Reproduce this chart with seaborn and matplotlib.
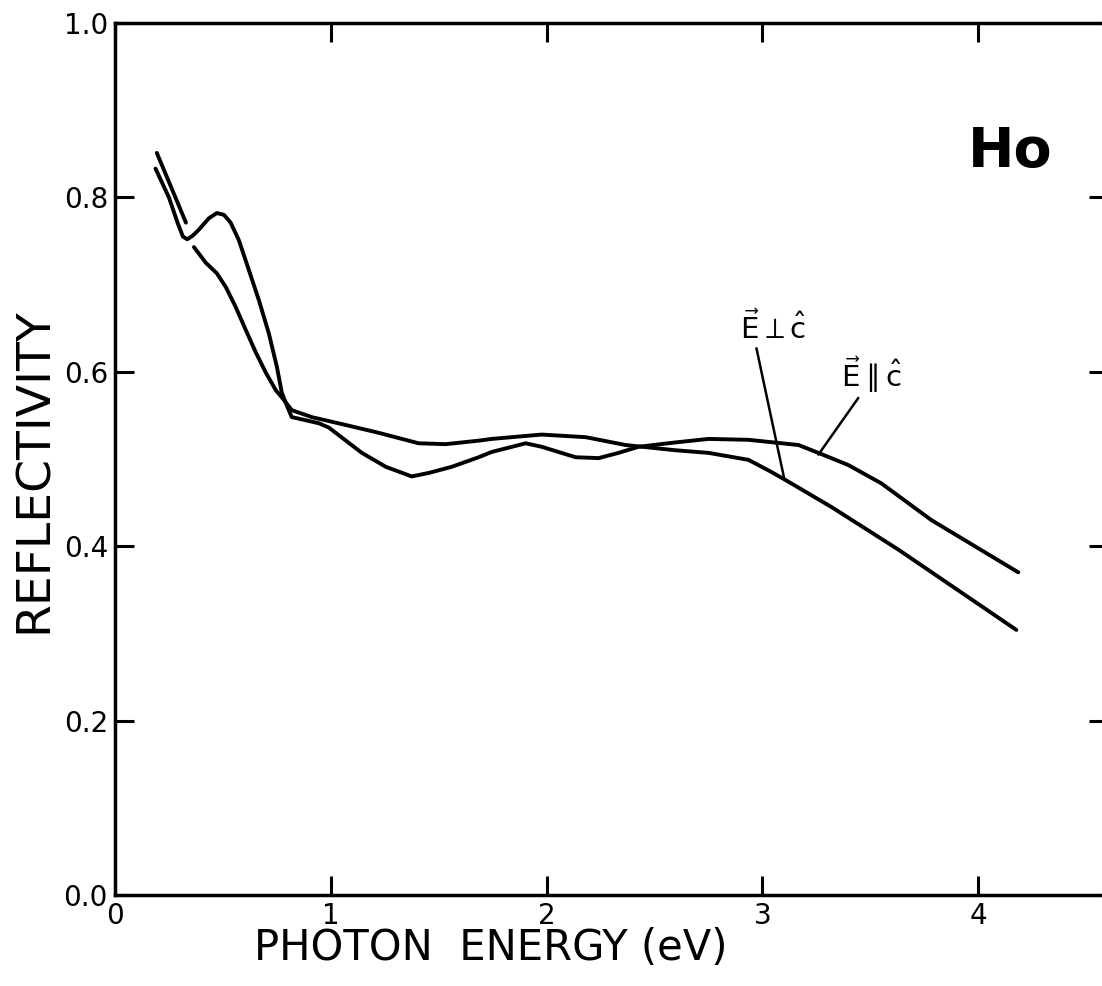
import numpy as np
import pandas as pd
import matplotlib
matplotlib.use('Agg')
import matplotlib.pyplot as plt
import seaborn as sns

# --- data (photon energy in eV, reflectivity) ---
# E perpendicular c : short head piece, then the main curve (gap where it crosses the other one)
perp_head_x = [0.194, 0.329]
perp_head_y = [0.851, 0.771]
perp_x = [0.366, 0.421, 0.472, 0.514, 0.560, 0.606, 0.653, 0.699, 0.745, 0.782, 0.819,
          0.912, 1.069, 1.222, 1.407, 1.532, 1.685, 1.745, 1.977, 2.181, 2.366, 2.597,
          2.750, 2.935, 3.042, 3.106, 3.319, 3.630, 4.176]
perp_y = [0.743, 0.725, 0.713, 0.697, 0.674, 0.648, 0.622, 0.599, 0.579, 0.568, 0.556,
          0.548, 0.539, 0.530, 0.518, 0.517, 0.521, 0.523, 0.528, 0.525, 0.516, 0.510,
          0.507, 0.499, 0.485, 0.476, 0.445, 0.396, 0.304]

# E parallel c
par_x = [0.188, 0.250, 0.290, 0.315, 0.335, 0.360, 0.389, 0.435, 0.472, 0.505, 0.536,
         0.574, 0.620, 0.667, 0.713, 0.750, 0.773, 0.792, 0.819, 0.838, 0.944, 0.991,
         1.144, 1.255, 1.375, 1.454, 1.560, 1.685, 1.745, 1.903, 1.977, 2.134, 2.241,
         2.333, 2.426, 2.597, 2.750, 2.935, 3.167, 3.259, 3.398, 3.551, 3.782, 4.185]
par_y = [0.833, 0.800, 0.771, 0.755, 0.752, 0.756, 0.763, 0.776, 0.782, 0.780, 0.771,
         0.751, 0.717, 0.682, 0.644, 0.606, 0.576, 0.564, 0.548, 0.547, 0.541, 0.536,
         0.507, 0.491, 0.480, 0.484, 0.491, 0.502, 0.508, 0.518, 0.514, 0.502, 0.501,
         0.507, 0.514, 0.519, 0.523, 0.522, 0.516, 0.507, 0.493, 0.472, 0.430, 0.370]

x_ticks = [0, 1, 2, 3, 4]
y_ticks = [0.0, 0.2, 0.4, 0.6, 0.8, 1.0]
y_tick_labels = ['0.0', '0.2', '0.4', '0.6', '0.8', '1.0']

sns.set_theme(style='white')
plt.rcParams['font.family'] = ['DejaVu Sans']
plt.rcParams['mathtext.fontset'] = 'dejavusans'
plt.rcParams['text.color'] = 'black'
plt.rcParams['axes.labelcolor'] = 'black'
plt.rcParams['xtick.color'] = 'black'
plt.rcParams['ytick.color'] = 'black'

fig = plt.figure(figsize=(11.02, 9.86), dpi=100)
ax = fig.add_axes([0.1043, 0.0923, 0.901, 0.8844])

line_kw = dict(color='black', linewidth=2.8, sort=False, estimator=None, ax=ax)
sns.lineplot(x=perp_head_x, y=perp_head_y, **line_kw)
sns.lineplot(x=perp_x, y=perp_y, **line_kw)
sns.lineplot(x=par_x, y=par_y, **line_kw)

ax.set_xlim(0, 4.6)
ax.set_ylim(0, 1.0)
ax.set_xticks(x_ticks)
ax.set_xticklabels([str(t) for t in x_ticks])
ax.set_yticks(y_ticks)
ax.set_yticklabels(y_tick_labels)

for s in ax.spines.values():
    s.set_color('black')
    s.set_linewidth(2.5)

ax.tick_params(axis='both', which='major', direction='in', length=14, width=2.2,
               color='black', labelsize=20, top=True, right=True, left=True, bottom=True)
ax.tick_params(axis='x', pad=5)
ax.tick_params(axis='y', pad=5)

ax.set_xlabel('PHOTON  ENERGY (eV)', fontsize=30)
ax.set_ylabel('REFLECTIVITY', fontsize=34)
ax.xaxis.set_label_coords(0.378, -0.061)
ax.yaxis.set_label_coords(-0.081, 0.487)
ax.xaxis.label.set_va('center')
ax.yaxis.label.set_va('center')

ax.text(4.148, 0.852, 'Ho', fontsize=40, fontweight='bold', ha='center', va='center')

# labels with leader lines
ax.text(3.051, 0.650, r'$\vec{\mathrm{E}}\perp\hat{\mathrm{c}}$', fontsize=21,
        ha='center', va='center')
ax.annotate('', xy=(3.102, 0.476), xytext=(2.972, 0.627),
            arrowprops=dict(arrowstyle='-', color='black', lw=1.8, shrinkA=0, shrinkB=0))
ax.text(3.505, 0.596, r'$\vec{\mathrm{E}}\parallel\hat{\mathrm{c}}$', fontsize=21,
        ha='center', va='center')
ax.annotate('', xy=(3.259, 0.505), xytext=(3.444, 0.570),
            arrowprops=dict(arrowstyle='-', color='black', lw=1.8, shrinkA=0, shrinkB=0))

fig.savefig('out.png', dpi=100)
